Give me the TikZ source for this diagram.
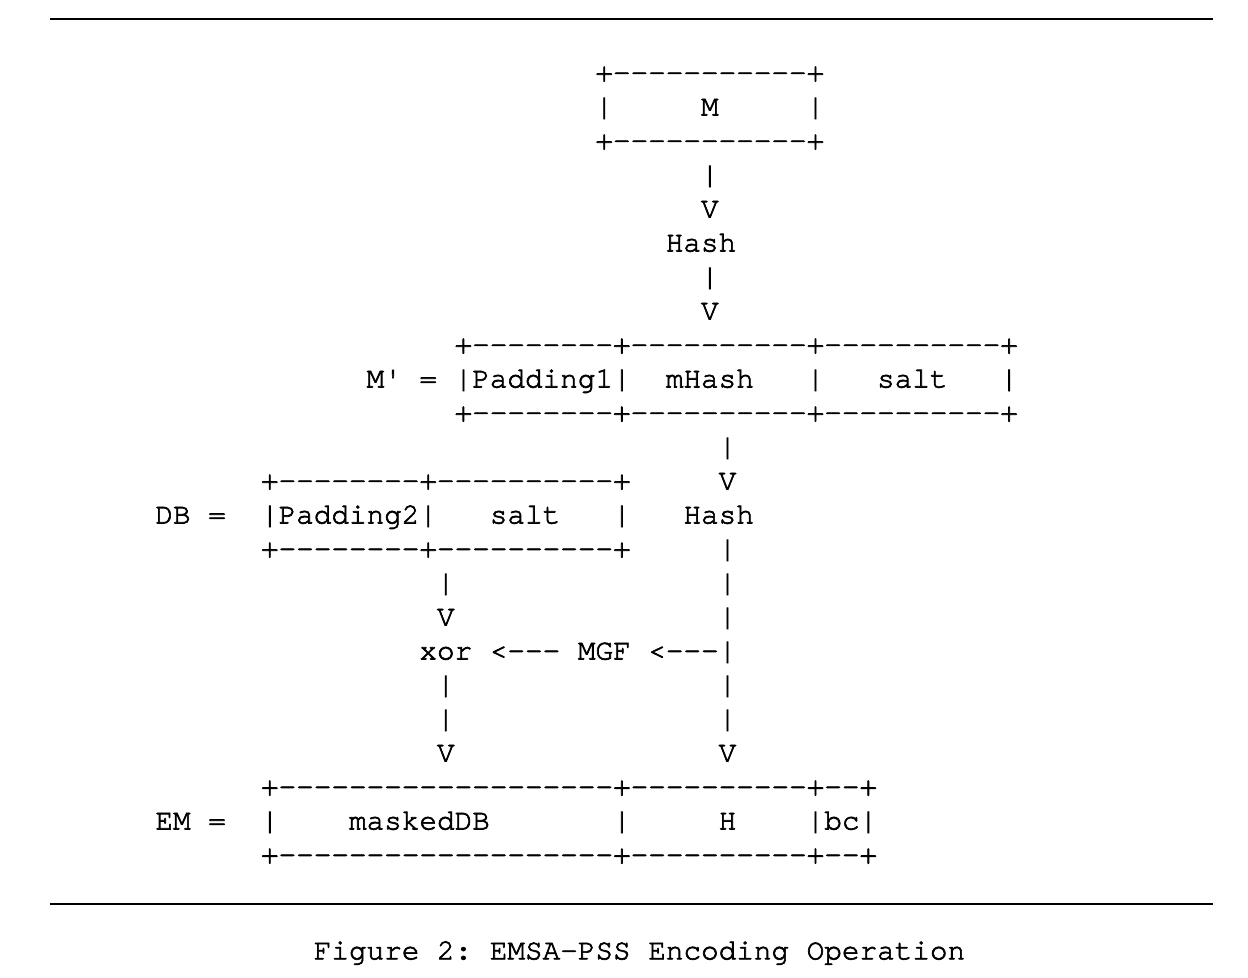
\documentclass[tikz,border=0pt]{standalone}
\usepackage{fontspec}
\setmonofont{TeX Gyre Cursor}[FakeBold=2.2]
\begin{document}
\begin{tikzpicture}[x=8.8pt,y=-17pt,
    asciirow/.style={inner sep=0pt,anchor=base west,font=\ttfamily\fontsize{14.67pt}{17pt}\selectfont}]
    \useasboundingbox (1.7pt,40.75pt) rectangle (625.7pt,-448.25pt);
    \draw[line width=1pt] (26.7pt,31.1pt) -- (608.2pt,31.1pt);
    \draw[line width=1pt] (26.7pt,-411pt) -- (608.2pt,-411pt);
    \node[asciirow] (mTop)     at (34,0)  {+-----------+};
    \node[asciirow] (mRow)     at (34,1)  {|~~~~~M~~~~~|};
    \node[asciirow] (mBot)     at (34,2)  {+-----------+};
    \node[asciirow] (hashInA)  at (40,3)  {|};
    \node[asciirow] (hashInB)  at (40,4)  {V};
    \node[asciirow] (hashOne)  at (38,5)  {Hash};
    \node[asciirow] (hashOutA) at (40,6)  {|};
    \node[asciirow] (hashOutB) at (40,7)  {V};
    \node[asciirow] (mpTop)    at (26,8)  {+--------+----------+----------+};
    \node[asciirow] (mpRow)    at (21,9)  {M'~=~|Padding1|~~mHash~~~|~~~salt~~~|};
    \node[asciirow] (mpBot)    at (26,10) {+--------+----------+----------+};
    \node[asciirow] (hashTwoA) at (41,11) {|};
    \node[asciirow] (dbTop)    at (15,12) {+--------+----------+~~~~~V};
    \node[asciirow] (dbRow)    at (9,13)  {DB~=~~|Padding2|~~~salt~~~|~~~Hash};
    \node[asciirow] (dbBot)    at (15,14) {+--------+----------+~~~~~|};
    \node[asciirow] (linkA)    at (25,15) {|~~~~~~~~~~~~~~~|};
    \node[asciirow] (linkB)    at (25,16) {V~~~~~~~~~~~~~~~|};
    \node[asciirow] (xorRow)   at (24,17) {xor~<---~MGF~<---|};
    \node[asciirow] (linkC)    at (25,18) {|~~~~~~~~~~~~~~~|};
    \node[asciirow] (linkD)    at (25,19) {|~~~~~~~~~~~~~~~|};
    \node[asciirow] (linkE)    at (25,20) {V~~~~~~~~~~~~~~~V};
    \node[asciirow] (emTop)    at (15,21) {+-------------------+----------+--+};
    \node[asciirow] (emRow)    at (9,22)  {EM~=~~|~~~~maskedDB~~~~~~~|~~~~~H~~~~|bc|};
    \node[asciirow] (emBot)    at (15,23) {+-------------------+----------+--+};
    \node[asciirow] (caption)  at (18,25.82) {Figure~2:~EMSA-PSS~Encoding~Operation};
\end{tikzpicture}
\end{document}
